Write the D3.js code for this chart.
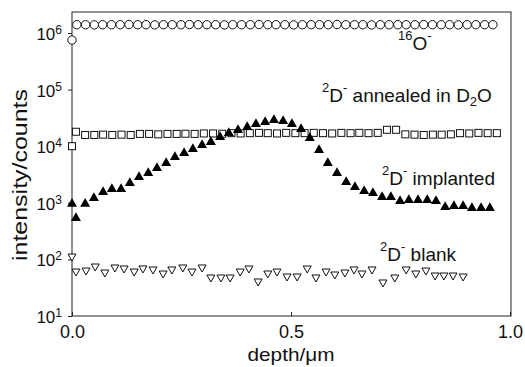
<!DOCTYPE html>
<html lang="en">
<head>
<meta charset="UTF-8">
<title>depth profile</title>
<script src="https://cdn.jsdelivr.net/npm/d3@7"></script>
<style>
	body { margin: 0; background: #fff; }
	text { font-family: "Liberation Sans", Arial, sans-serif; fill: #111; }
</style>
</head>
<body>
<svg id="chart" width="525" height="367"></svg>
<script>
// --- data (depth in um, intensity in counts) ---
var oxygenDepth = [0, 0.011, 0.031, 0.051, 0.070, 0.090, 0.110, 0.130, 0.150, 0.169, 0.189, 0.209, 0.229, 0.249, 0.268, 0.288, 0.308, 0.328, 0.348, 0.367, 0.387, 0.407, 0.427, 0.447, 0.466, 0.486, 0.506, 0.526, 0.546, 0.565, 0.585, 0.605, 0.625, 0.645, 0.664, 0.684, 0.704, 0.724, 0.744, 0.763, 0.783, 0.803, 0.823, 0.843, 0.862, 0.882, 0.902, 0.922, 0.942, 0.961];
var oxygenCounts = [7.5e5, 1.40e6, 1.40e6, 1.39e6, 1.40e6, 1.40e6, 1.40e6, 1.41e6, 1.40e6, 1.40e6, 1.39e6, 1.40e6, 1.40e6, 1.40e6, 1.41e6, 1.40e6, 1.40e6, 1.40e6, 1.39e6, 1.40e6, 1.40e6, 1.40e6, 1.41e6, 1.40e6, 1.40e6, 1.40e6, 1.39e6, 1.40e6, 1.40e6, 1.40e6, 1.40e6, 1.41e6, 1.40e6, 1.40e6, 1.40e6, 1.39e6, 1.40e6, 1.40e6, 1.40e6, 1.40e6, 1.40e6, 1.41e6, 1.40e6, 1.40e6, 1.40e6, 1.39e6, 1.40e6, 1.40e6, 1.40e6, 1.40e6];

var annealedDepth = [0, 0.009, 0.030, 0.051, 0.071, 0.092, 0.113, 0.134, 0.155, 0.176, 0.197, 0.218, 0.239, 0.259, 0.280, 0.301, 0.322, 0.343, 0.364, 0.385, 0.406, 0.427, 0.447, 0.468, 0.489, 0.510, 0.531, 0.552, 0.573, 0.594, 0.615, 0.636, 0.656, 0.677, 0.698, 0.719, 0.740, 0.761, 0.782, 0.803, 0.824, 0.844, 0.865, 0.886, 0.907, 0.928, 0.949, 0.970];
var annealedCounts = [1.0e4, 1.8e4, 1.58e4, 1.58e4, 1.6e4, 1.58e4, 1.6e4, 1.58e4, 1.65e4, 1.65e4, 1.62e4, 1.65e4, 1.65e4, 1.66e4, 1.65e4, 1.68e4, 1.68e4, 1.66e4, 1.7e4, 1.68e4, 1.7e4, 1.72e4, 1.7e4, 1.68e4, 1.72e4, 1.7e4, 1.7e4, 1.72e4, 1.7e4, 1.68e4, 1.72e4, 1.7e4, 1.72e4, 1.7e4, 1.72e4, 1.95e4, 1.95e4, 1.62e4, 1.6e4, 1.58e4, 1.6e4, 1.6e4, 1.62e4, 1.7e4, 1.68e4, 1.72e4, 1.7e4, 1.7e4];

var implantedDepth = [0, 0.009, 0.030, 0.050, 0.071, 0.091, 0.112, 0.132, 0.153, 0.174, 0.194, 0.215, 0.235, 0.256, 0.276, 0.297, 0.317, 0.338, 0.358, 0.379, 0.400, 0.420, 0.441, 0.461, 0.482, 0.502, 0.523, 0.543, 0.564, 0.584, 0.605, 0.626, 0.646, 0.667, 0.687, 0.708, 0.728, 0.749, 0.769, 0.790, 0.811, 0.831, 0.852, 0.872, 0.893, 0.913, 0.934, 0.954];
var implantedCounts = [1000, 560, 1000, 1265, 1615, 1825, 1825, 2330, 2970, 3500, 4290, 5260, 6720, 7910, 9290, 10900, 12400, 15100, 17800, 20100, 22700, 25700, 27900, 30200, 29000, 25700, 21000, 14500, 8930, 5260, 3500, 2430, 1980, 1680, 1550, 1320, 1320, 1120, 1170, 1170, 1170, 1120, 877, 914, 914, 843, 843, 843];

var blankDepth = [0, 0.009, 0.032, 0.053, 0.075, 0.098, 0.119, 0.142, 0.162, 0.185, 0.208, 0.228, 0.253, 0.274, 0.297, 0.317, 0.340, 0.361, 0.384, 0.404, 0.425, 0.447, 0.468, 0.491, 0.514, 0.537, 0.557, 0.580, 0.600, 0.623, 0.644, 0.662, 0.685, 0.710, 0.737, 0.763, 0.785, 0.808, 0.829, 0.849, 0.870, 0.893];
var blankCounts = [110, 59.8, 62.3, 73.4, 57.5, 70.5, 67.7, 59.8, 67.7, 65, 55.2, 65, 70.5, 59.8, 70.5, 46.9, 46.9, 46.9, 59.8, 67.7, 39.9, 55.2, 59.8, 48.9, 48.9, 67.7, 46.9, 59.8, 53.0, 57.5, 65, 55.2, 65, 38.3, 46.9, 65, 55.2, 62.3, 50.9, 50.9, 50.9, 48.9];

var xTicks = [0, 0.5, 1.0];
var yTicks = [1e1, 1e2, 1e3, 1e4, 1e5, 1e6];

// --- layout ---
var width = 525, height = 367;
var mLeft = 72, mTop = 12, mRight = 511, mBottom = 316;

var svg = d3.select("#chart");

var x = d3.scaleLinear().domain([0, 1]).range([mLeft, 510]);
var y = d3.scaleLog().domain([10, 2.35e6]).range([mBottom, mTop]);

function zip(xs, ys) {
	return xs.map(function(d, i) { return [d, ys[i]]; });
}

// frame
svg.append("rect")
	.attr("x", mLeft).attr("y", mTop)
	.attr("width", mRight - mLeft).attr("height", mBottom - mTop)
	.attr("fill", "none").attr("stroke", "#222").attr("stroke-width", 1);

// x axis
var gx = svg.append("g")
	.attr("transform", "translate(0," + mBottom + ")")
	.call(d3.axisBottom(x).tickValues(xTicks).tickSizeInner(-4).tickSizeOuter(0)
		.tickPadding(9).tickFormat(d3.format(".1f")));
gx.select(".domain").remove();
gx.selectAll("line").attr("stroke", "#222");
gx.selectAll("text").attr("font-size", 18).attr("font-family", "Liberation Sans, Arial, sans-serif").attr("fill", "#111");

// y axis
var gy = svg.append("g")
	.attr("transform", "translate(" + mLeft + ",0)")
	.call(d3.axisLeft(y).tickValues(yTicks).tickSize(4).tickPadding(6).tickFormat(""));
gy.select(".domain").remove();
gy.selectAll("line").attr("stroke", "#222");
gy.selectAll(".tick text").each(function(d) {
	var t = d3.select(this)
		.attr("font-size", 17).attr("font-family", "Liberation Sans, Arial, sans-serif")
		.attr("fill", "#111").attr("dy", "0.38em");
	t.append("tspan").text("10");
	t.append("tspan").attr("font-size", 12).attr("dy", "-0.5em").text(Math.round(Math.log10(d)));
});

// axis titles (original lettering is a bit wide, so stretch to the measured length)
svg.append("text")
	.attr("x", x(0.5)).attr("y", 361)
	.attr("text-anchor", "middle").attr("font-size", 19)
	.attr("textLength", 87).attr("lengthAdjust", "spacingAndGlyphs")
	.text("depth/\u03bcm");

svg.append("text")
	.attr("transform", "translate(27,175) rotate(-90)")
	.attr("text-anchor", "middle").attr("font-size", 21)
	.attr("textLength", 172).attr("lengthAdjust", "spacingAndGlyphs")
	.text("intensity/counts");

// series
var plot = svg.append("g");

plot.selectAll("circle.o16")
	.data(zip(oxygenDepth, oxygenCounts))
	.enter().append("circle")
	.attr("class", "o16")
	.attr("cx", function(d) { return x(d[0]); })
	.attr("cy", function(d) { return y(d[1]); })
	.attr("r", 4.2)
	.attr("fill", "#fff").attr("stroke", "#111").attr("stroke-width", 1);

plot.selectAll("rect.ann")
	.data(zip(annealedDepth, annealedCounts))
	.enter().append("rect")
	.attr("class", "ann")
	.attr("x", function(d) { return x(d[0]) - 3.5; })
	.attr("y", function(d) { return y(d[1]) - 3.5; })
	.attr("width", 7).attr("height", 7)
	.attr("fill", "#fff").attr("stroke", "#111").attr("stroke-width", 1);

plot.selectAll("path.blank")
	.data(zip(blankDepth, blankCounts))
	.enter().append("path")
	.attr("class", "blank")
	.attr("transform", function(d) { return "translate(" + x(d[0]) + "," + y(d[1]) + ")"; })
	.attr("d", "M-4,-3L4,-3L0,4Z")
	.attr("fill", "#fff").attr("stroke", "#111").attr("stroke-width", 1);

plot.selectAll("path.impl")
	.data(zip(implantedDepth, implantedCounts))
	.enter().append("path")
	.attr("class", "impl")
	.attr("transform", function(d) { return "translate(" + x(d[0]) + "," + y(d[1]) + ")"; })
	.attr("d", "M-5,4L5,4L0,-4.8Z")
	.attr("fill", "#000");

// labels with super/subscripts
function label(px, py, parts) {
	var t = svg.append("text").attr("x", px).attr("y", py).attr("font-size", 19);
	parts.forEach(function(p) {
		var s = t.append("tspan").text(p[0]);
		if (p[1] === "sup") s.attr("font-size", 13).attr("dy", -10);
		if (p[1] === "sub") s.attr("font-size", 13).attr("dy", 4);
		if (p[1] === "back") s.attr("dy", p[2]);
	});
}

label(398, 50, [["16", "sup"], ["O", "back", 10], ["-", "sup"]]);
label(322, 102, [["2", "sup"], ["D", "back", 10], ["-", "sup"], [" annealed in D", "back", 10], ["2", "sub"], ["O", "back", -4]]);
label(382, 185, [["2", "sup"], ["D", "back", 10], ["-", "sup"], [" implanted", "back", 10]]);
label(380, 261, [["2", "sup"], ["D", "back", 10], ["-", "sup"], [" blank", "back", 10]]);
</script>
</body>
</html>
